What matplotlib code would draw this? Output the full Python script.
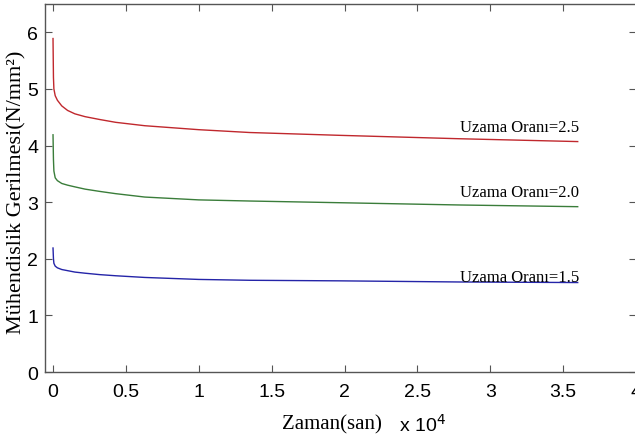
import matplotlib
matplotlib.use('Agg')
import matplotlib.pyplot as plt
import numpy as np

# Zaman (saniye) ve gerilme degerleri (N/mm2)
t_san = [0, 30, 60, 150, 300, 600, 1000, 1500, 2200, 3200, 4300, 6300,
         10000, 13500, 19700, 27900, 36000]
oran_25 = [5.89, 5.20, 5.00, 4.88, 4.80, 4.70, 4.62, 4.56, 4.51, 4.46, 4.41, 4.35,
           4.28, 4.23, 4.18, 4.12, 4.07]
oran_20 = [4.19, 3.75, 3.55, 3.43, 3.38, 3.33, 3.30, 3.27, 3.23, 3.19, 3.15, 3.09,
           3.04, 3.02, 2.99, 2.95, 2.92]
oran_15 = [2.19, 2.00, 1.92, 1.87, 1.84, 1.81, 1.79, 1.765, 1.745, 1.72, 1.70, 1.67,
           1.635, 1.62, 1.61, 1.59, 1.58]
etiketler = ['Uzama Oranı=2.5', 'Uzama Oranı=2.0', 'Uzama Oranı=1.5']
xticks = [0, 0.5, 1, 1.5, 2, 2.5, 3, 3.5, 4]
yticks = [0, 1, 2, 3, 4, 5, 6]

sans = ['Liberation Sans', 'DejaVu Sans']
serif = ['Liberation Serif', 'DejaVu Serif']

fig = plt.figure(figsize=(6.35, 4.39), dpi=100)
ax = fig.add_axes([45 / 635, 1 - 373 / 439, (636 - 45) / 635, 368 / 439])

t = np.array(t_san) / 1e4
renkler = ['#c0282d', '#3a7d3a', '#2424a8']
seriler = [oran_25, oran_20, oran_15]
# etiket konumlari (veri birimi)
etiket_y = [4.25, 3.10, 1.60]
for s, c, lab, ly in zip(seriler, renkler, etiketler, etiket_y):
    ax.plot(t, s, color=c, lw=1.0)
    ax.text(3.61, ly, lab, ha='right', va='baseline', fontsize=12, family=serif)

ax.set_xlim(-0.055, 4)
ax.set_ylim(0, 6.5)
ax.set_xticks(xticks)
ax.set_xticklabels([f'{v:g}' for v in xticks], family=sans, fontsize=14)
ax.set_yticks(yticks)
ax.set_yticklabels([str(v) for v in yticks], family=sans, fontsize=14)
ax.tick_params(direction='in', length=5, width=0.8, color='#555555', top=True, right=True)
ax.tick_params(axis='x', pad=8)
ax.tick_params(axis='y', pad=5)
for sp in ax.spines.values():
    sp.set_color('#555555')
    sp.set_linewidth(1.0)

ax.set_ylabel('Mühendislik Gerilmesi(N/mm²)', family=serif, fontsize=16)
ax.yaxis.set_label_coords(-0.032, 0.49)
fig.text(332 / 635, 1 - 425 / 439, 'Zaman(san)', family=serif, fontsize=15,
         ha='center', va='center')
fig.text(399 / 635, 1 - 425 / 439, 'x 10$^4$', family=sans, fontsize=14,
         ha='left', va='center')

plt.savefig('out.png', dpi=100)
